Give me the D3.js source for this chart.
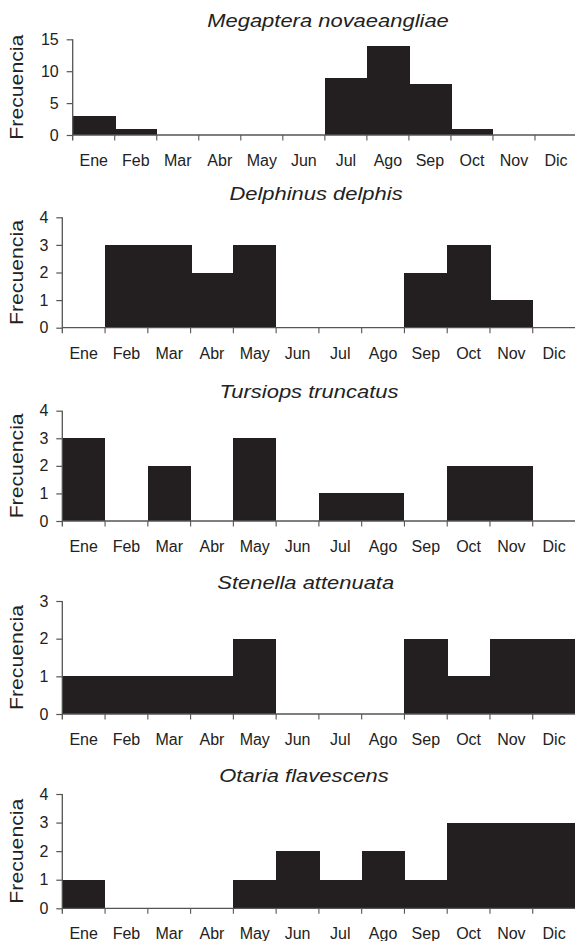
<!DOCTYPE html>
<html>
<head>
<meta charset="utf-8">
<script src="https://cdn.jsdelivr.net/npm/d3@7"></script>
<style>
  html, body { margin: 0; padding: 0; background: #fff; }
  svg { display: block; }
  text { font-family: "Liberation Sans", Arial, sans-serif; fill: #222; }
</style>
</head>
<body>
<svg id="chart" width="575" height="941"></svg>
<script>
// ---- data ----
const months = ["Ene", "Feb", "Mar", "Abr", "May", "Jun", "Jul", "Ago", "Sep", "Oct", "Nov", "Dic"];
const speciesNames = ["Megaptera novaeangliae", "Delphinus delphis", "Tursiops truncatus", "Stenella attenuata", "Otaria flavescens"];
const megaptera = [3, 1, 0, 0, 0, 0, 9, 14, 8, 1, 0, 0];
const delphinus = [0, 3, 3, 2, 3, 0, 0, 0, 2, 3, 1, 0];
const tursiops  = [3, 0, 2, 0, 3, 0, 1, 1, 0, 2, 2, 0];
const stenella  = [1, 1, 1, 1, 2, 0, 0, 0, 2, 1, 2, 2];
const otaria    = [1, 0, 0, 0, 1, 2, 1, 2, 1, 3, 3, 3];
const yTickValues = [[0, 5, 10, 15], [0, 1, 2, 3, 4], [0, 1, 2, 3, 4], [0, 1, 2, 3], [0, 1, 2, 3, 4]];
const yLabel = "Frecuencia";

const seriesList = [megaptera, delphinus, tursiops, stenella, otaria];

// ---- layout (positions only) ----
const layout = [
  { x0: 72.7, x1: 577,   yTop: 39.3,  yBase: 135,   titleX: 328,   titleY: 26.7 },
  { x0: 62.3, x1: 575.5, yTop: 217.3, yBase: 327.7, titleX: 316,   titleY: 200 },
  { x0: 62.3, x1: 575.5, yTop: 410.7, yBase: 521,   titleX: 309,   titleY: 398 },
  { x0: 62.3, x1: 575.5, yTop: 601,   yBase: 714,   titleX: 305.7, titleY: 588.5 },
  { x0: 62.3, x1: 575.5, yTop: 794,   yBase: 908.3, titleX: 304,   titleY: 782 }
];

const svg = d3.select("#chart");
const barColor = "#231f20";
const axisColor = "#555";

seriesList.forEach((vals, i) => {
  const L = layout[i];
  const ticks = yTickValues[i];
  const g = svg.append("g");

  const x = d3.scaleBand().domain(months).range([L.x0, L.x1]).paddingInner(0).paddingOuter(0);
  const y = d3.scaleLinear().domain([0, d3.max(ticks)]).range([L.yBase, L.yTop]);

  // bars (slightly overlapped so adjacent equal bars merge without seams)
  const barData = months.map((m, k) => ({ m, v: vals[k], next: vals[k + 1] || 0 })).filter(d => d.v > 0);
  g.selectAll("rect.bar")
    .data(barData)
    .enter().append("rect")
    .attr("class", "bar")
    .attr("x", d => x(d.m))
    .attr("width", d => x.bandwidth() + (d.next > 0 ? 1 : 0))
    .attr("y", d => y(d.v))
    .attr("height", d => y(0) - y(d.v))
    .attr("fill", barColor)
    .attr("shape-rendering", "crispEdges");

  // x axis line
  g.append("line")
    .attr("x1", L.x0).attr("x2", L.x1 + 5)
    .attr("y1", y(0)).attr("y2", y(0))
    .attr("stroke", axisColor).attr("stroke-width", 1.3);

  // x ticks at band boundaries
  g.selectAll("line.xt")
    .data(months.slice(1))
    .enter().append("line")
    .attr("class", "xt")
    .attr("x1", d => x(d)).attr("x2", d => x(d))
    .attr("y1", y(0)).attr("y2", y(0) + 5.5)
    .attr("stroke", axisColor).attr("stroke-width", 1.1);

  // x labels (centered in bands)
  const xAxis = d3.axisBottom(x).tickSize(0).tickPadding(0);
  const xg = g.append("g").attr("transform", `translate(0,${y(0)})`).call(xAxis);
  xg.select(".domain").remove();
  xg.selectAll("text")
    .attr("y", 31).attr("dy", null)
    .style("font-family", '"Liberation Sans", Arial, sans-serif')
    .style("font-size", "16px")
    .attr("fill", "#222");

  // y axis
  const yAxis = d3.axisLeft(y).tickValues(ticks).tickSize(6).tickSizeOuter(0).tickPadding(8).tickFormat(d3.format("d"));
  const yg = g.append("g").attr("transform", `translate(${L.x0},0)`).call(yAxis);
  yg.select(".domain").remove();
  yg.selectAll(".tick line").attr("stroke", axisColor).attr("stroke-width", 1.2);
  yg.selectAll("text")
    .style("font-family", '"Liberation Sans", Arial, sans-serif')
    .style("font-size", "16px")
    .attr("fill", "#222");
  g.append("line")
    .attr("x1", L.x0).attr("x2", L.x0)
    .attr("y1", y(d3.max(ticks))).attr("y2", y(0) + 5.5)
    .attr("stroke", axisColor).attr("stroke-width", 1.3);

  // y label
  g.append("text")
    .attr("transform", `translate(23,${(L.yTop + L.yBase) / 2}) rotate(-90) scale(1.18,1)`)
    .attr("text-anchor", "middle")
    .style("font-size", "18px")
    .text(yLabel);

  // title
  g.append("text")
    .attr("transform", `translate(${L.titleX},${L.titleY}) scale(1.22,1)`)
    .attr("text-anchor", "middle")
    .style("font-size", "18px")
    .style("font-style", "italic")
    .text(speciesNames[i]);
});
</script>
</body>
</html>
